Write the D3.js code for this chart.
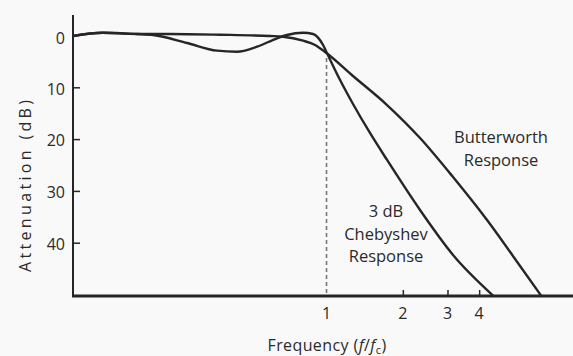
<!DOCTYPE html>
<html>
<head>
<meta charset="utf-8">
<script src="https://cdn.jsdelivr.net/npm/d3@7"></script>
<style>
  html, body { margin: 0; padding: 0; background: #f9f9f9; }
  svg { display: block; }
  text { font-family: "Open Sans", "Liberation Sans", sans-serif; fill: #2a2a2a; }
</style>
</head>
<body>
<svg id="chart" width="573" height="356"></svg>
<script>
// Normalized frequency f/fc (log axis) and attenuation in dB
const xTicks = [1, 2, 3, 4];
const yTicks = [0, 10, 20, 30, 40];

// 3 dB ripple Chebyshev response
const chebFreq = [0.1, 0.131, 0.179, 0.207, 0.282, 0.370, 0.443, 0.532, 0.638, 0.698, 0.808, 0.885, 0.969, 1.005, 1.131, 1.272, 1.484, 1.733, 2.338, 3.155, 4.537];
const chebAtten = [0.1, -0.54, -0.29, -0.1, 1.45, 2.93, 3.13, 2.16, 0.54, -0.1, -0.54, -0.29, 1.83, 3.44, 8.59, 13.22, 18.82, 24.03, 33.69, 42.37, 50.2];

// Butterworth response
const buttFreq = [0.1, 0.131, 0.179, 0.241, 0.380, 0.599, 0.674, 0.808, 0.901, 1.002, 1.272, 1.733, 2.338, 3.155, 4.297, 5.799, 7.019];
const buttAtten = [0.1, -0.54, -0.29, -0.29, -0.15, 0.1, 0.23, 1.0, 1.83, 3.44, 7.82, 13.42, 19.79, 27.32, 35.62, 44.5, 50.2];

const svg = d3.select("#chart");

const x = d3.scaleLog().domain([0.1, 9.38]).range([73, 573]);
const y = d3.scaleLinear().domain([0, 50]).range([35.5, 294.5]);

const ink = "#262626";

// cutoff marker at f = fc
svg.append("line")
  .attr("x1", x(1)).attr("x2", x(1))
  .attr("y1", 58).attr("y2", y(50))
  .attr("stroke", "#777").attr("stroke-width", 1.6)
  .attr("stroke-dasharray", "4,3");

// y axis
const yAxis = d3.axisRight(y).tickValues(yTicks.slice(1)).tickSize(7).tickFormat("");
const gy = svg.append("g").attr("transform", "translate(73,0)").call(yAxis);
gy.select(".domain").remove();
gy.selectAll(".tick line").attr("stroke", ink).attr("stroke-width", 1.5);
svg.append("line")
  .attr("x1", 73).attr("x2", 73).attr("y1", 15).attr("y2", 297)
  .attr("stroke", ink).attr("stroke-width", 2);

svg.append("g").selectAll("text").data(yTicks).join("text")
  .attr("x", 65).attr("y", d => y(d) + 3 + (d === 0 ? 1 : 0))
  .attr("text-anchor", "end").attr("dominant-baseline", "middle")
  .attr("font-size", 16)
  .text(d => d);

// x axis
const xAxis = d3.axisTop(x).tickValues(xTicks.slice(1)).tickSize(6).tickFormat("");
const gx = svg.append("g").attr("transform", `translate(0,${y(50) + 1.5})`).call(xAxis);
gx.select(".domain").remove();
gx.selectAll(".tick line").attr("stroke", ink).attr("stroke-width", 1.5);
svg.append("line")
  .attr("x1", 72).attr("x2", 573).attr("y1", y(50) + 1.5).attr("y2", y(50) + 1.5)
  .attr("stroke", ink).attr("stroke-width", 3);

svg.append("g").selectAll("text").data(xTicks).join("text")
  .attr("x", d => x(d)).attr("y", 319)
  .attr("text-anchor", "middle").attr("font-size", 16)
  .text(d => d);

// response curves
const line = d3.line()
  .x(d => x(d[0])).y(d => y(d[1]))
  .curve(d3.curveMonotoneX);

svg.append("path")
  .datum(d3.zip(buttFreq, buttAtten))
  .attr("d", line).attr("fill", "none")
  .attr("stroke", ink).attr("stroke-width", 2.4);

svg.append("path")
  .datum(d3.zip(chebFreq, chebAtten))
  .attr("d", line).attr("fill", "none")
  .attr("stroke", ink).attr("stroke-width", 2.4);

// axis titles
svg.append("text")
  .attr("transform", "translate(31,186) rotate(-90)")
  .attr("text-anchor", "middle").attr("font-size", 16)
  .attr("textLength", 172).attr("lengthAdjust", "spacing")
  .text("Attenuation (dB)");

const xt = svg.append("text")
  .attr("x", 327).attr("y", 351)
  .attr("text-anchor", "middle").attr("font-size", 16)
  .attr("letter-spacing", 0.4);
xt.append("tspan").text("Frequency (");
xt.append("tspan").attr("font-style", "italic").text("f");
xt.append("tspan").text("/");
xt.append("tspan").attr("font-style", "italic").text("f");
xt.append("tspan").attr("font-size", 11).attr("dy", 3).text("c");
xt.append("tspan").attr("dy", -3).text(")");

// curve annotations
const notes = [
  { lines: ["Butterworth", "Response"], x: 501, y: 143 },
  { lines: ["3 dB", "Chebyshev", "Response"], x: 386, y: 217 }
];
notes.forEach(n => {
  svg.append("g").selectAll("text").data(n.lines).join("text")
    .attr("x", n.x).attr("y", (d, i) => n.y + i * 22.5)
    .attr("text-anchor", "middle").attr("font-size", 16.5)
    .text(d => d);
});
</script>
</body>
</html>
